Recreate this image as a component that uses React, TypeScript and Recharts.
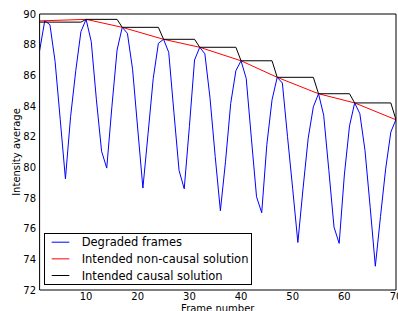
import React from "react";
import { LineChart, Line, XAxis, YAxis, Legend } from "recharts";

// Degraded frames (blue), one value per frame 1..70
const frames = Array.from({ length: 70 }, (_, i) => i + 1);
const degraded = [
  87.6, 89.56, 89.3, 86.9, 83.1, 79.25, 83.3, 86.3, 88.85, 89.65,
  88.2, 84.4, 81.05, 79.95, 83.97, 87.65, 89.13, 88.74, 86.4, 82.5,
  78.65, 82.2, 85.8, 88.09, 88.35, 87.5, 83.6, 79.8, 78.6, 82.66,
  87.0, 87.83, 87.4, 84.5, 80.7, 77.17, 80.4, 84.17, 86.3, 86.95,
  85.8, 81.9, 78.08, 77.04, 81.5, 84.4, 85.87, 85.5, 82.0, 78.6,
  75.1, 78.6, 81.9, 83.95, 84.8, 83.4, 79.8, 76.1, 75.04, 79.5,
  82.7, 84.2, 83.5, 81.1, 77.4, 73.55, 76.8, 79.9, 82.3, 83.13,
];

// Intended non-causal solution (red) - line through the peaks
const nonCausalFrames = [1, 10, 17, 25, 32, 40, 47, 55, 62, 70];
const nonCausalValues = [89.55, 89.65, 89.13, 88.35, 87.83, 86.95, 85.87, 84.8, 84.2, 83.1];

// Intended causal solution (black) - holds last peak
const causalFrames = [1, 9, 10, 16, 17, 24, 25, 31, 32, 39, 40, 46, 47, 54, 55, 61, 62, 69, 70];
const causalValues = [
  89.47, 89.47, 89.65, 89.65, 89.13, 89.13, 88.35, 88.35, 87.83, 87.83,
  86.95, 86.95, 85.87, 85.87, 84.8, 84.8, 84.2, 84.2, 83.1,
];

const seriesNames = ["Degraded frames", "Intended non-causal solution", "Intended causal solution"];
const seriesColors = ["#0000ff", "#ff0000", "#000000"];

const xTicks = [10, 20, 30, 40, 50, 60, 70];
const yTicks = [72, 74, 76, 78, 80, 82, 84, 86, 88, 90];

const degradedData = frames.map((f, i) => ({ frame: f, value: degraded[i] }));
const nonCausalData = nonCausalFrames.map((f, i) => ({ frame: f, value: nonCausalValues[i] }));
const causalData = causalFrames.map((f, i) => ({ frame: f, value: causalValues[i] }));

const FONT = "DejaVu Sans";

const LegendBox = (props: any) => {
  // keep the plotting order, not alphabetical
  const items = [...(props.payload || [])].sort(
    (a: any, b: any) => seriesNames.indexOf(a.value) - seriesNames.indexOf(b.value)
  );
  return (
    <svg width={208} height={52} style={{ display: "block" }}>
      <rect x={0.5} y={0.5} width={207} height={51} fill="#fff" stroke="#000" strokeWidth={1} />
      {items.map((item: any, i: number) => (
        <g key={i}>
          <line
            x1={7.7}
            x2={25.3}
            y1={9.2 + i * 16.65}
            y2={9.2 + i * 16.65}
            stroke={item.color}
            strokeWidth={1}
          />
          <text x={37.7} y={13.2 + i * 16.65} fontSize={11.5} fontFamily={FONT} fill="#000">
            {item.value}
          </text>
        </g>
      ))}
    </svg>
  );
};

const YLabel = (props: any) => {
  const vb = props.viewBox;
  const cy = vb.y + vb.height / 2;
  return (
    <text
      x={20}
      y={cy}
      transform={`rotate(-90, 20, ${cy})`}
      textAnchor="middle"
      fontSize={10}
      fontFamily={FONT}
      fill="#000"
    >
      Intensity average
    </text>
  );
};

const XLabel = (props: any) => {
  const vb = props.viewBox;
  return (
    <text
      x={vb.x + vb.width / 2}
      y={312}
      textAnchor="middle"
      fontSize={10}
      fontFamily={FONT}
      fill="#000"
    >
      Frame number
    </text>
  );
};

const tickStyle = { fill: "#000", fontSize: 10, fontFamily: FONT };

export default function App() {
  return (
    <div style={{ position: "absolute", left: 0, top: 0 }}>
      <LineChart width={398} height={311} margin={{ top: 14, right: 2, bottom: 0, left: 0 }}>
        <XAxis
          dataKey="frame"
          type="number"
          domain={[1, 70]}
          allowDataOverflow
          ticks={xTicks}
          interval={0}
          height={21}
          tickLine={false}
          tickSize={0}
          tickMargin={3}
          axisLine={{ stroke: "#000" }}
          tick={tickStyle}
          label={{ content: XLabel }}
        />
        <XAxis
          xAxisId="bottomTicks"
          dataKey="frame"
          type="number"
          domain={[1, 70]}
          allowDataOverflow
          ticks={xTicks}
          interval={0}
          mirror
          tick={false}
          tickSize={4}
          axisLine={false}
          tickLine={{ stroke: "#000" }}
        />
        <XAxis
          xAxisId="top"
          orientation="top"
          dataKey="frame"
          type="number"
          domain={[1, 70]}
          allowDataOverflow
          ticks={xTicks}
          interval={0}
          mirror
          tick={false}
          tickSize={4}
          axisLine={{ stroke: "#000" }}
          tickLine={{ stroke: "#000" }}
        />
        <YAxis
          type="number"
          domain={[72, 90]}
          allowDataOverflow
          ticks={yTicks}
          interval={0}
          width={39.6}
          tickLine={false}
          tickSize={0}
          tickMargin={3.5}
          axisLine={{ stroke: "#000" }}
          tick={tickStyle}
          label={{ content: YLabel }}
        />
        <YAxis
          yAxisId="leftTicks"
          type="number"
          domain={[72, 90]}
          allowDataOverflow
          ticks={yTicks}
          interval={0}
          mirror
          tick={false}
          tickSize={4}
          axisLine={false}
          tickLine={{ stroke: "#000" }}
        />
        <YAxis
          yAxisId="right"
          orientation="right"
          type="number"
          domain={[72, 90]}
          allowDataOverflow
          ticks={yTicks}
          interval={0}
          mirror
          tick={false}
          tickSize={4}
          axisLine={{ stroke: "#000" }}
          tickLine={{ stroke: "#000" }}
        />
        <Line
          data={degradedData}
          dataKey="value"
          name={seriesNames[0]}
          stroke={seriesColors[0]}
          strokeWidth={1}
          dot={false}
          type="linear"
          isAnimationActive={false}
        />
        <Line
          data={nonCausalData}
          dataKey="value"
          name={seriesNames[1]}
          stroke={seriesColors[1]}
          strokeWidth={1}
          dot={false}
          type="linear"
          isAnimationActive={false}
        />
        <Line
          data={causalData}
          dataKey="value"
          name={seriesNames[2]}
          stroke={seriesColors[2]}
          strokeWidth={1}
          dot={false}
          type="linear"
          isAnimationActive={false}
        />
        <Legend
          layout="vertical"
          align="center"
          verticalAlign="middle"
          content={LegendBox}
          wrapperStyle={{ left: 44, top: 232.5, width: 208, height: 52 }}
        />
      </LineChart>
    </div>
  );
}
